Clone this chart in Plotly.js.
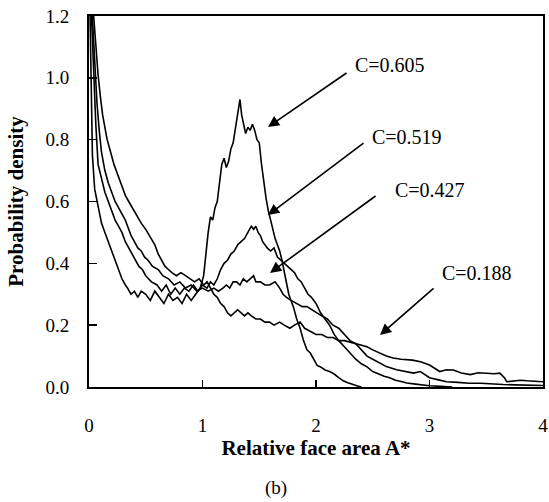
<!DOCTYPE html>
<html>
<head>
<meta charset="utf-8">
<script src="https://cdn.plot.ly/plotly-3.0.1.min.js"></script>
<style>html,body{margin:0;padding:0;background:#fff;}#chart{width:549px;height:502px;}</style>
</head>
<body>
<div id="chart"></div>
<script>
// C = 0.605
const x605 = [0.00,0.01,0.02,0.03,0.05,0.08,0.11,0.14,0.17,0.20,0.23,0.26,0.29,0.32,0.34,0.37,0.40,0.43,0.46,0.50,0.54,0.58,0.62,0.66,0.70,0.74,0.78,0.82,0.86,0.90,0.94,0.98,1.01,1.03,1.05,1.07,1.09,1.11,1.13,1.15,1.17,1.19,1.21,1.23,1.25,1.27,1.29,1.31,1.33,1.345,1.36,1.38,1.40,1.42,1.44,1.46,1.48,1.50,1.52,1.54,1.56,1.58,1.60,1.62,1.64,1.66,1.68,1.70,1.72,1.74,1.76,1.78,1.80,1.83,1.86,1.89,1.92,1.95,1.98,2.01,2.04,2.08,2.12,2.16,2.20,2.24,2.28,2.32,2.36,2.40];
const y605 = [1.40,1.20,0.95,0.75,0.64,0.58,0.53,0.50,0.47,0.44,0.41,0.38,0.35,0.33,0.32,0.30,0.31,0.29,0.31,0.30,0.28,0.31,0.29,0.27,0.30,0.28,0.29,0.27,0.30,0.28,0.30,0.32,0.36,0.44,0.50,0.55,0.54,0.58,0.60,0.66,0.72,0.74,0.71,0.73,0.77,0.79,0.84,0.88,0.93,0.88,0.85,0.82,0.84,0.83,0.85,0.83,0.80,0.79,0.72,0.66,0.61,0.57,0.54,0.50,0.48,0.46,0.44,0.41,0.37,0.33,0.30,0.28,0.26,0.22,0.19,0.15,0.12,0.11,0.09,0.07,0.065,0.055,0.05,0.042,0.03,0.02,0.014,0.008,0.004,0.0];

// C = 0.519
const x519 = [0.00,0.02,0.04,0.06,0.08,0.11,0.14,0.17,0.20,0.23,0.26,0.29,0.32,0.35,0.38,0.41,0.44,0.47,0.50,0.55,0.60,0.64,0.68,0.72,0.76,0.80,0.84,0.88,0.92,0.96,1.00,1.04,1.07,1.10,1.13,1.16,1.19,1.22,1.25,1.28,1.31,1.34,1.37,1.40,1.43,1.45,1.47,1.49,1.51,1.53,1.55,1.57,1.60,1.63,1.66,1.69,1.72,1.75,1.78,1.81,1.84,1.87,1.90,1.93,1.96,2.00,2.04,2.08,2.12,2.16,2.20,2.25,2.30,2.35,2.40,2.45,2.50,2.55,2.60,2.65,2.70,2.75,2.80,2.86,2.92,3.00,3.10,3.20];
const y519 = [1.40,1.20,1.00,0.85,0.72,0.67,0.63,0.60,0.57,0.54,0.52,0.50,0.47,0.45,0.43,0.41,0.39,0.38,0.36,0.34,0.33,0.31,0.33,0.30,0.32,0.30,0.32,0.31,0.33,0.31,0.33,0.32,0.34,0.33,0.35,0.38,0.40,0.41,0.43,0.44,0.46,0.47,0.48,0.50,0.52,0.51,0.52,0.50,0.49,0.47,0.46,0.45,0.44,0.45,0.42,0.41,0.40,0.39,0.38,0.37,0.35,0.34,0.32,0.30,0.29,0.27,0.24,0.22,0.20,0.17,0.15,0.13,0.11,0.09,0.075,0.065,0.05,0.042,0.035,0.03,0.022,0.018,0.013,0.01,0.007,0.004,0.002,0.0];

// C = 0.427
const x427 = [0.00,0.03,0.05,0.07,0.09,0.11,0.14,0.17,0.20,0.23,0.26,0.29,0.32,0.34,0.37,0.40,0.43,0.46,0.49,0.52,0.56,0.61,0.65,0.70,0.75,0.80,0.85,0.90,0.95,1.00,1.05,1.10,1.14,1.18,1.21,1.24,1.27,1.30,1.33,1.36,1.39,1.42,1.45,1.47,1.51,1.55,1.59,1.64,1.68,1.71,1.74,1.78,1.83,1.88,1.92,1.96,2.00,2.05,2.10,2.15,2.20,2.25,2.30,2.35,2.40,2.45,2.50,2.56,2.62,2.71,2.78,2.86,2.92,3.00,3.08,3.15,3.25,3.35,3.45,3.55,3.65,3.75,3.85,3.95,4.00];
const y427 = [1.40,1.20,1.05,0.92,0.83,0.76,0.70,0.66,0.63,0.60,0.58,0.56,0.54,0.52,0.49,0.47,0.45,0.44,0.42,0.41,0.39,0.38,0.36,0.35,0.33,0.34,0.32,0.33,0.31,0.32,0.31,0.32,0.31,0.32,0.33,0.32,0.34,0.34,0.33,0.35,0.34,0.35,0.36,0.34,0.34,0.33,0.33,0.34,0.32,0.30,0.29,0.28,0.27,0.26,0.26,0.25,0.24,0.23,0.22,0.20,0.19,0.17,0.15,0.14,0.12,0.10,0.09,0.078,0.066,0.056,0.05,0.045,0.05,0.03,0.023,0.017,0.015,0.012,0.012,0.009,0.008,0.007,0.006,0.005,0.005];

// C = 0.188
const x188 = [0.00,0.04,0.06,0.08,0.10,0.12,0.14,0.16,0.19,0.22,0.25,0.28,0.32,0.35,0.38,0.41,0.43,0.46,0.50,0.55,0.58,0.61,0.64,0.67,0.70,0.73,0.77,0.81,0.85,0.89,0.93,0.97,1.01,1.04,1.07,1.10,1.13,1.16,1.19,1.22,1.25,1.28,1.31,1.34,1.37,1.40,1.43,1.47,1.51,1.55,1.59,1.63,1.68,1.72,1.77,1.81,1.86,1.90,1.95,2.00,2.05,2.10,2.15,2.20,2.25,2.30,2.35,2.40,2.45,2.50,2.56,2.62,2.68,2.75,2.85,2.92,3.00,3.05,3.09,3.15,3.21,3.28,3.36,3.43,3.50,3.57,3.62,3.66,3.68,3.74,3.80,3.86,3.91,3.96,4.00];
const y188 = [1.40,1.20,1.10,1.01,0.94,0.88,0.84,0.80,0.76,0.72,0.69,0.66,0.62,0.60,0.58,0.56,0.55,0.53,0.51,0.48,0.46,0.43,0.41,0.39,0.38,0.37,0.36,0.37,0.36,0.35,0.34,0.35,0.33,0.34,0.32,0.30,0.29,0.27,0.26,0.24,0.23,0.24,0.25,0.24,0.23,0.24,0.23,0.22,0.22,0.21,0.21,0.20,0.21,0.20,0.19,0.20,0.21,0.19,0.18,0.17,0.17,0.16,0.16,0.15,0.15,0.145,0.14,0.135,0.13,0.12,0.11,0.10,0.094,0.09,0.087,0.082,0.071,0.06,0.05,0.056,0.055,0.045,0.04,0.046,0.045,0.043,0.045,0.03,0.017,0.02,0.022,0.02,0.02,0.018,0.017];

const xTicks = [0,1,2,3,4];
const xTickText = ['0','1','2','3','4'];
const yTicks = [0,0.2,0.4,0.6,0.8,1.0,1.2];
const yTickText = ['0.0','0.2','0.4','0.6','0.8','1.0','1.2'];

const serif = '"Liberation Serif", "Times New Roman", serif';
const lineStyle = {color:'#000', width:1.6};

// The C=0.188 curve sits on the overlaid axes pair (same ranges) so that pair is drawn and carries the inside tick marks.
const traces = [
  {x:x605, y:y605, mode:'lines', line:lineStyle, name:'C=0.605'},
  {x:x519, y:y519, mode:'lines', line:lineStyle, name:'C=0.519'},
  {x:x427, y:y427, mode:'lines', line:lineStyle, name:'C=0.427'},
  {x:x188, y:y188, mode:'lines', line:lineStyle, name:'C=0.188', xaxis:'x2', yaxis:'y2'}
];

const arrowStyle = {showarrow:true, arrowhead:2, arrowsize:1.4, arrowwidth:1.6, arrowcolor:'#000', text:'', xref:'x', yref:'y', axref:'pixel', ayref:'pixel'};
const labelStyle = {showarrow:false, xref:'x', yref:'y', xanchor:'left', yanchor:'middle', font:{family:serif, size:20, color:'#000'}};

const annotations = [
  Object.assign({x:1.577, y:0.841, ax:80, ay:-55}, arrowStyle),
  Object.assign({x:1.577, y:0.556, ax:97, ay:-73}, arrowStyle),
  Object.assign({x:1.595, y:0.369, ax:107, ay:-78}, arrowStyle),
  Object.assign({x:2.564, y:0.168, ax:55, ay:-48}, arrowStyle),
  Object.assign({x:2.326, y:1.041, text:'C=0.605'}, labelStyle),
  Object.assign({x:2.476, y:0.809, text:'C=0.519'}, labelStyle),
  Object.assign({x:2.678, y:0.637, text:'C=0.427'}, labelStyle),
  Object.assign({x:3.093, y:0.369, text:'C=0.188'}, labelStyle),
  {text:'(b)', xref:'paper', yref:'paper', x:(276-89)/454, y:-(488-387)/371, showarrow:false, xanchor:'center', yanchor:'middle', font:{family:serif, size:19, color:'#000'}}
];

const layout = {
  width:549, height:502,
  margin:{l:89, r:6, t:16, b:115, pad:0},
  paper_bgcolor:'#fff', plot_bgcolor:'#fff',
  showlegend:false,
  // main axes: frame, tick labels, titles
  xaxis:{
    range:[0,4], tickmode:'array', tickvals:xTicks, ticktext:xTickText,
    ticks:'', showline:true, linecolor:'#000', linewidth:2, mirror:true,
    showgrid:false, zeroline:false,
    ticklabelstandoff:20,
    tickfont:{family:serif, size:19, color:'#000'},
    title:{text:'<b>Relative face area A*</b>', font:{family:serif, size:21, color:'#000'}, standoff:2}
  },
  yaxis:{
    range:[0,1.2], tickmode:'array', tickvals:yTicks, ticktext:yTickText,
    ticks:'', showline:true, linecolor:'#000', linewidth:2, mirror:true,
    showgrid:false, zeroline:false,
    ticklabelstandoff:14,
    tickfont:{family:serif, size:19, color:'#000'},
    title:{text:'<b>Probability density</b>', font:{family:serif, size:21, color:'#000'}, standoff:16}
  },
  // overlaid axes with the same ranges: inside tick marks only
  xaxis2:{
    overlaying:'x', anchor:'y2', side:'bottom', range:[0,4],
    tickmode:'array', tickvals:xTicks, showticklabels:false,
    ticks:'inside', ticklen:7, tickwidth:1.5, tickcolor:'#000',
    showline:false, showgrid:false, zeroline:false
  },
  yaxis2:{
    overlaying:'y', anchor:'x2', side:'left', range:[0,1.2],
    tickmode:'array', tickvals:yTicks, showticklabels:false,
    ticks:'inside', ticklen:8, tickwidth:1.5, tickcolor:'#000',
    showline:false, showgrid:false, zeroline:false
  },
  annotations:annotations
};

Plotly.newPlot('chart', traces, layout, {displayModeBar:false, staticPlot:true});
</script>
</body>
</html>
